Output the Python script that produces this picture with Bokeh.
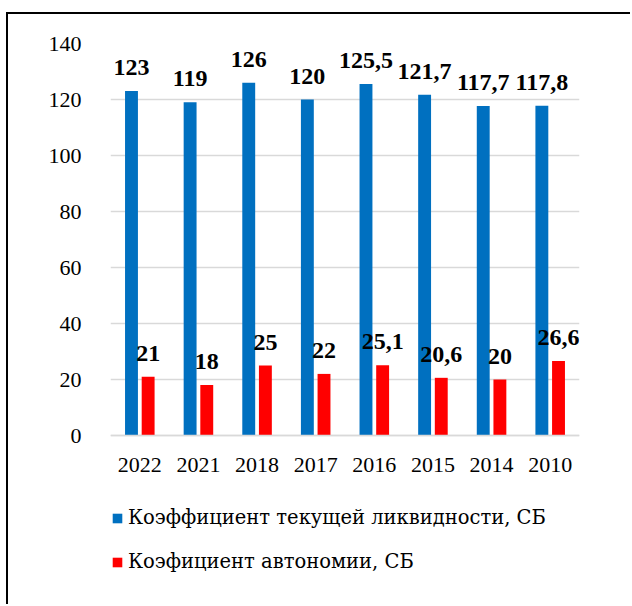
from bokeh.plotting import figure
from bokeh.models import ColumnDataSource, LabelSet, Legend, LegendItem, FactorRange, Range1d, FixedTicker
from bokeh.transform import dodge
from bokeh.embed import file_html
from bokeh.resources import INLINE

years = ["2022", "2021", "2018", "2017", "2016", "2015", "2014", "2010"]
liquidity = [123, 119, 126, 120, 125.5, 121.7, 117.7, 117.8]
autonomy = [21, 18, 25, 22, 25.1, 20.6, 20, 26.6]
y_ticks = [0, 20, 40, 60, 80, 100, 120, 140]
series_names = ["Коэффициент текущей ликвидности, СБ", "Коэфициент автономии, СБ"]


def fmt(v):
    return str(int(v)) if float(v).is_integer() else str(v).replace(".", ",")


src = ColumnDataSource(dict(
    years=years,
    liq=liquidity,
    aut=autonomy,
    liq_txt=[fmt(v) for v in liquidity],
    aut_txt=[fmt(v) for v in autonomy],
))

FONT = "Liberation Serif"
LEGEND_FONT = "DejaVu Serif"

# frame extends below zero so that the legend area lies inside it
p = figure(
    x_range=FactorRange(*years, range_padding=0),
    y_range=Range1d(-61.07, 140),
    width=624, height=592,
    output_backend="svg", toolbar_location=None,
    min_border_left=102, min_border_right=53, min_border_top=29, min_border_bottom=0,
)
p.x_range.range_padding = 0
p.outline_line_color = None
p.background_fill_color = "white"
p.border_fill_color = "white"
p.styles = {"border-top": "2px solid black", "border-left": "2px solid black",
            "margin-left": "6px", "margin-top": "12px"}

blue = "#0070c0"
red = "#ff0000"
r1 = p.vbar(x=dodge("years", -0.142, range=p.x_range), top="liq", width=0.22,
            source=src, fill_color=blue, line_color=None)
r2 = p.vbar(x=dodge("years", 0.142, range=p.x_range), top="aut", width=0.22,
            source=src, fill_color=red, line_color=None)

lab1 = LabelSet(x=dodge("years", -0.142, range=p.x_range), y="liq", text="liq_txt", source=src,
                text_align="center", text_baseline="alphabetic", y_offset=16,
                text_font=FONT, text_font_size="24px", text_font_style="bold", text_color="black")
lab2 = LabelSet(x=dodge("years", 0.142, range=p.x_range), y="aut", text="aut_txt", source=src,
                text_align="center", text_baseline="alphabetic", y_offset=16,
                text_font=FONT, text_font_size="24px", text_font_style="bold", text_color="black")
p.add_layout(lab1)
p.add_layout(lab2)

p.yaxis.ticker = FixedTicker(ticks=y_ticks)
p.yaxis.axis_line_color = None
p.yaxis.major_tick_line_color = None
p.yaxis.minor_tick_line_color = None
p.yaxis.major_label_standoff = 23
p.yaxis.major_label_text_font = FONT
p.yaxis.major_label_text_font_size = "22px"
p.yaxis.major_label_text_color = "black"

p.xaxis.fixed_location = 0
p.xaxis.axis_line_color = "#d9d9d9"
p.xaxis.axis_line_width = 1.5
p.xaxis.major_tick_line_color = None
p.xaxis.minor_tick_line_color = None
p.xaxis.major_label_standoff = 16
p.xaxis.major_label_text_font = FONT
p.xaxis.major_label_text_font_size = "22px"
p.xaxis.major_label_text_color = "black"

p.xgrid.grid_line_color = None
p.ygrid.grid_line_color = "#d9d9d9"
p.ygrid.grid_line_width = 1.5

legend = Legend(
    items=[LegendItem(label=series_names[0], renderers=[r1]),
           LegendItem(label=series_names[1], renderers=[r2])],
    location=(1, 33),
    orientation="vertical",
    label_text_font=LEGEND_FONT, label_text_font_size="19.5px", label_text_color="black",
    glyph_width=12, glyph_height=12, label_standoff=5,
    label_height=22, spacing=21, padding=0, margin=0,
    border_line_color=None, background_fill_alpha=0,
)
p.add_layout(legend, "center")

open("out.html", "w").write(file_html(p, INLINE))
